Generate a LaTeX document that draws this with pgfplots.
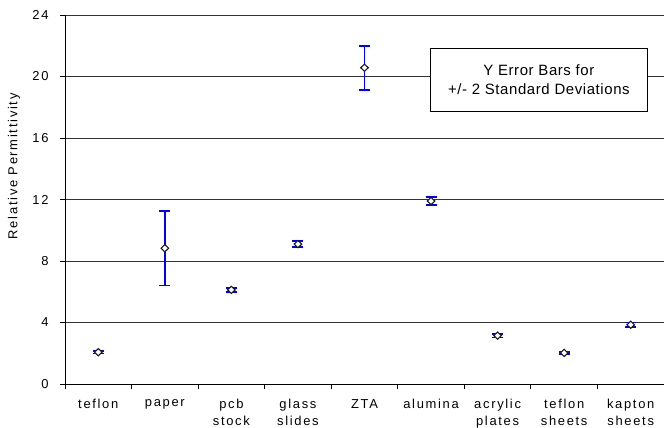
\documentclass[border=0pt]{standalone}
\usepackage{pgfplots}
\pgfplotsset{compat=1.18}
\usepackage{fontspec}
\setmainfont{Liberation Sans}[LetterSpace=4]
\newfontfamily\widefont{Liberation Sans}[LetterSpace=13]
\definecolor{ebblue}{RGB}{0,0,255}
\pgfplotstableread{
x y e
1 2.07 0.08
2 8.83 2.42
3 6.12 0.12
4 9.10 0.20
5 20.57 1.43
6 11.90 0.25
7 3.15 0.12
8 2.02 0.07
9 3.85 0.15
}\datatable
\begin{document}
\begin{tikzpicture}
\path[use as bounding box] (-65bp,-44bp) rectangle (599bp,384bp);
\begin{axis}[
  at={(0,0)}, anchor=south west,
  scale only axis, width=599bp, height=369bp,
  xmin=0.5, xmax=9.5, ymin=0, ymax=24,
  axis x line*=bottom, axis y line*=left,
  axis line style={black, line width=0.8bp},
  ytick={0,4,...,24},
  xtick={1,...,9},
  xticklabels={teflon, paper, {pcb\\stock}, {glass\\slides}, ZTA, alumina, {acrylic\\plates}, {teflon\\sheets}, {kapton\\sheets}},
  minor xtick={0.5,1.5,...,9.5},
  major x tick style={draw=none},
  tick style={black, line width=0.8bp},
  tick align=outside, major tick length=5bp, minor tick length=5bp,
  ymajorgrids, grid style={black!80, line width=0.7bp},
  /pgf/number format/assume math mode=true,
  ticklabel style={font=\widefont\fontsize{13}{16.5}\selectfont},
  xticklabel style={align=center, yshift=-7bp},
  yticklabel style={xshift=-8bp},
  every axis y label/.style={at={(axis description cs:-0.085,0.59)}, rotate=90, anchor=center, font=\widefont\fontsize{13}{15}\selectfont},
  ylabel={Relative Permittivity},
  clip=false,
]
\addplot[only marks, mark=diamond*, mark size=3.6bp,
  mark options={draw=black!90, fill=white, line width=1.1bp, xscale=1.4},
  error bars/.cd, y dir=both, y explicit,
  error bar style={ebblue, line width=1.6bp},
  error mark options={rotate=90, ebblue, mark size=5.5bp, line width=1.6bp}]
  table[x=x, y=y, y error=e]{\datatable};
\node[draw=black, fill=white, line width=0.8bp, minimum width=217bp, minimum height=63bp, align=center, font=\fontsize{15}{19}\selectfont]
  at (axis cs:7.62,19.77) {Y Error Bars for\\+/- 2 Standard Deviations};
\end{axis}
\end{tikzpicture}
\end{document}
